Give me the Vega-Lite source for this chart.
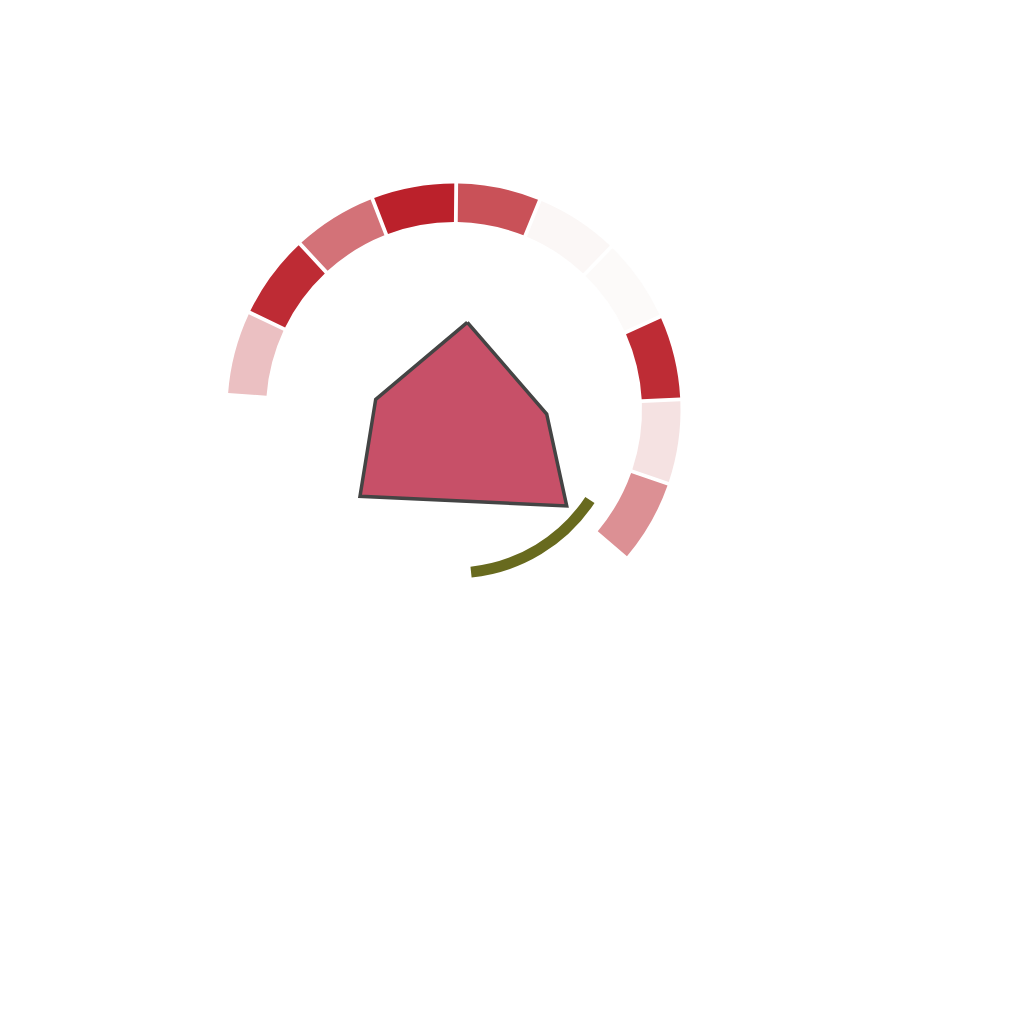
{
  "$schema": "https://vega.github.io/schema/vega-lite/v6.json",
  "width": 908,
  "height": 820,
  "autosize": {"type": "none"},
  "padding": 0,
  "background": "white",
  "config": {"view": {"stroke": null}},
  "datasets": {
    "ring": [
      {"idx": 1, "value": 1, "score": 0.265},
      {"idx": 2, "value": 1, "score": 0.954},
      {"idx": 3, "value": 1, "score": 0.625},
      {"idx": 4, "value": 1, "score": 1.0},
      {"idx": 5, "value": 1, "score": 0.78},
      {"idx": 6, "value": 1, "score": 0.014},
      {"idx": 7, "value": 1, "score": 0.0},
      {"idx": 8, "value": 1, "score": 0.95},
      {"idx": 9, "value": 1, "score": 0.11},
      {"idx": 10, "value": 1, "score": 0.49}
    ],
    "band": [
      {"start": 123.5, "end": 174}
    ],
    "shape": [
      {"order": 1, "x": 13.3, "y": 87.7},
      {"order": 2, "x": 92.7, "y": -4},
      {"order": 3, "x": 112.7, "y": -96},
      {"order": 4, "x": -94, "y": -86.3},
      {"order": 5, "x": -78.3, "y": 10.7},
      {"order": 6, "x": 13.3, "y": 87.7}
    ]
  },
  "layer": [
    {
      "data": {"name": "ring"},
      "mark": {"type": "arc", "radius": 226.5, "radius2": 188, "padAngle": 0.013},
      "encoding": {
        "theta": {"field": "value", "type": "quantitative", "stack": true,
          "scale": {"domain": [0, 10], "range": [-1.5045, 2.2811]}},
        "order": {"field": "idx", "type": "quantitative"},
        "color": {"field": "score", "type": "quantitative", "legend": null,
          "scale": {"domain": [0, 1], "range": ["#fcfaf9", "#bb212b"], "interpolate": "rgb"}}
      }
    },
    {
      "data": {"name": "shape"},
      "mark": {"type": "line", "fill": "#c75068", "stroke": "#444444", "strokeWidth": 3.5, "strokeJoin": "miter"},
      "encoding": {
        "x": {"field": "x", "type": "quantitative", "axis": null,
          "scale": {"domain": [-454, 454], "nice": false, "zero": false}},
        "y": {"field": "y", "type": "quantitative", "axis": null,
          "scale": {"domain": [-410, 410], "nice": false, "zero": false}},
        "order": {"field": "order", "type": "quantitative"}
      }
    },
    {
      "data": {"name": "band"},
      "mark": {"type": "arc", "radius": 168.5, "radius2": 157.5, "color": "#686a1e"},
      "encoding": {
        "theta": {"field": "start", "type": "quantitative",
          "scale": {"domain": [0, 360], "range": [0, 6.283185]}},
        "theta2": {"field": "end"}
      }
    }
  ],
  "resolve": {"scale": {"theta": "independent", "color": "independent"}}
}
